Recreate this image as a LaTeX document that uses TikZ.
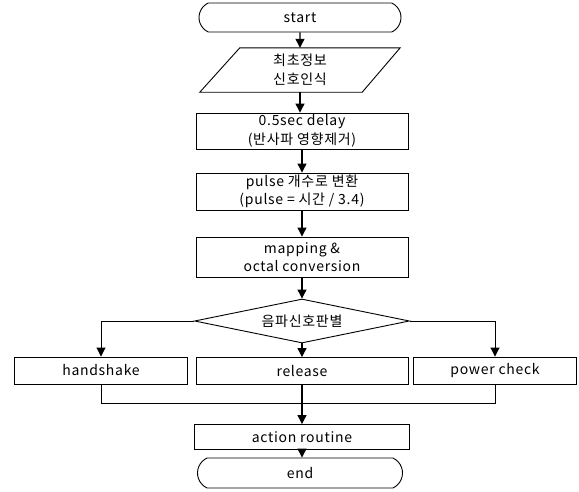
\documentclass[tikz,border=0pt]{standalone}
\usepackage{fontspec}
\setmainfont[LetterSpace=5]{Noto Sans CJK KR}
\usetikzlibrary{shapes.misc,shapes.geometric,arrows.meta,calc}
\begin{document}
\begin{tikzpicture}[x=1pt,y=-1pt,
  every node/.style={font=\fontsize{14}{18.5}\selectfont, align=center, inner sep=0pt},
  procbox/.style={draw, line width=0.9pt, minimum width=212pt},
  term/.style={draw, line width=0.9pt, rounded rectangle, rounded rectangle arc length=130, minimum width=202pt, minimum height=29pt},
  decide/.style={draw, line width=0.9pt, diamond, aspect=4.9, minimum width=215pt, minimum height=44pt},
  arr/.style={line width=1.2pt, -{Triangle[length=9pt,width=9pt]}},
  thinarr/.style={line width=0.9pt, -{Triangle[length=9pt,width=9pt]}},
  plain/.style={line width=0.9pt}]
\useasboundingbox (0,0) rectangle (579,491);

\node[term] (start) at (300,17.5) {start};
\node[minimum width=200pt, minimum height=44pt] (para) at (300,70) {최초정보\\신호인식};
\draw[line width=0.9pt] (para.south west) -- ($(para.north west)+(40,0)$) -- (para.north east) -- ($(para.south east)+(-38,0)$) -- cycle;
\node[procbox, minimum height=36pt] (b1) at (302,131) {0.5sec delay\\(반사파 영향제거)};
\node[procbox, minimum height=37pt] (b2) at (302,191.5) {pulse 개수로 변환\\(pulse = 시간 / 3.4)};
\node[procbox, minimum height=40pt] (b3) at (302,257) {mapping \&\\octal conversion};
\node[decide] (dia) at (302,321) {음파신호판별};
\node[procbox, minimum width=173pt, minimum height=27pt] (hs) at (101,370.5) {handshake};
\node[procbox, minimum height=27pt] (rel) at (302,371) {release};
\node[procbox, minimum width=163pt, minimum height=27pt] (pc) at (495,370.5) {power check};
\node[procbox, minimum width=215pt, minimum height=25pt] (act) at (302,437) {action routine};
\node[term, minimum width=205pt, minimum height=30pt] (end) at (300,473) {end};
\coordinate (join) at (302,403);

\draw[arr] (start) -- (para);
\draw[arr] (para.south) -- (para.south |- b1.north);
\draw[arr] (b1) -- (b2);
\draw[arr] (b2) -- (b3);
\draw[arr] (b3) -- (dia);
\draw[arr] (dia) -- (rel);
\draw[thinarr] (dia.west) -| (hs.north);
\draw[thinarr] (dia.east) -| (pc.north);
\draw[plain] (hs.south) |- (join);
\draw[plain] (pc.south) |- (join);
\draw[arr] (rel) -- (act);
\draw[arr] (act) -- (act.south |- end.north);
\end{tikzpicture}
\end{document}
